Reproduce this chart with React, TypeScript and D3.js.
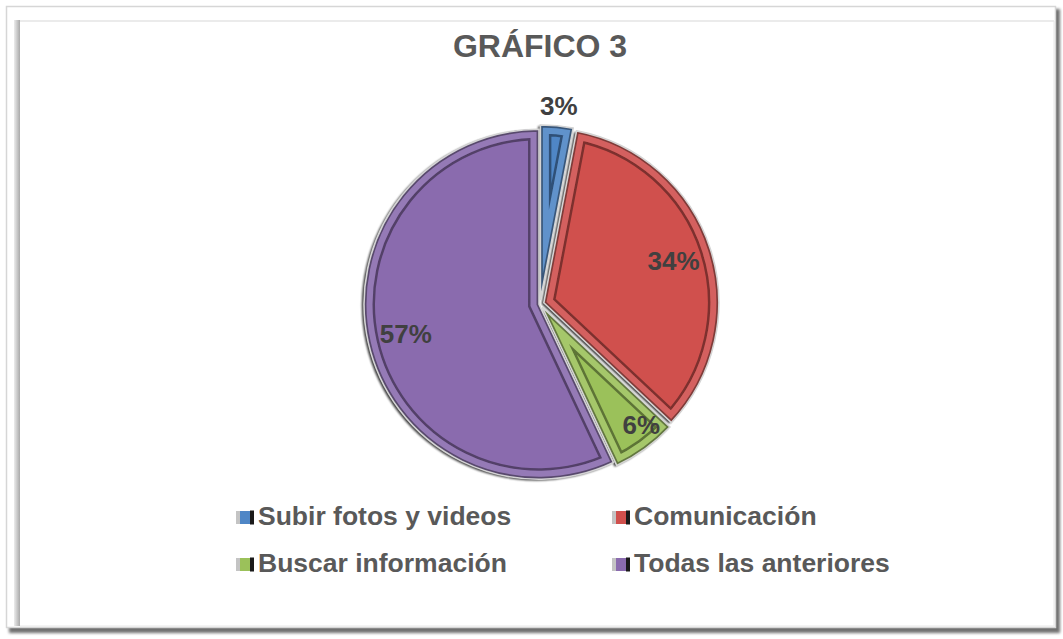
import React from "react";
import * as d3 from "d3";

const categories = ["Subir fotos y videos", "Comunicación", "Buscar información", "Todas las anteriores"];
const values = [3, 34, 6, 57];
const colors = ["#4F86C6", "#D0504D", "#9BC15A", "#8A6BAE"];
const title = "GRÁFICO 3";

const W = 1063;
const H = 639;
const FONT = "'Liberation Sans', Arial, Helvetica, sans-serif";

export default function App() {
  const cx = 540;
  const cy = 304;
  const R = 175;
  const total = d3.sum(values);
  const pie = d3.pie<number>().sort(null).value((d) => d);
  const arcs = pie(values);
  const arc = d3.arc<d3.PieArcDatum<number>>().innerRadius(0).outerRadius(R);

  const explode = (a: d3.PieArcDatum<number>, i: number) => {
    const mid = (a.startAngle + a.endAngle) / 2;
    const e = i === 3 ? 1 : 4;
    return [Math.sin(mid) * e, -Math.cos(mid) * e];
  };

  const labelPos = (a: d3.PieArcDatum<number>) => {
    const mid = (a.startAngle + a.endAngle) / 2;
    const share = a.value / total;
    const r = share < 0.05 ? R + 20 : share < 0.1 ? R * 0.88 : R * 0.78;
    const ang = share < 0.05 || share >= 0.1 ? mid : mid - 0.07;
    return [Math.sin(ang) * r, -Math.cos(ang) * r];
  };

  const legendCols = [236, 612];
  const legendRows = [525, 572];

  return (
    <svg
      width={W}
      height={H}
      style={{ position: "absolute", left: 0, top: 0, background: "#fff" }}
      fontFamily={FONT}
    >
      <defs>
        <filter id="frameShadow" x="-5%" y="-5%" width="110%" height="110%">
          <feGaussianBlur stdDeviation="1.5" />
        </filter>
        <filter id="sliceShadow" x="-20%" y="-20%" width="140%" height="140%">
          <feGaussianBlur stdDeviation="0.8" />
        </filter>
        <filter id="bevelBlur" x="-20%" y="-20%" width="140%" height="140%">
          <feGaussianBlur stdDeviation="0.7" />
        </filter>
        <linearGradient id="leftEdge" x1="0" x2="1" y1="0" y2="0">
          <stop offset="0" stopColor="#ececec" />
          <stop offset="1" stopColor="#a9a9a9" />
        </linearGradient>
        {arcs.map((a, i) => (
          <clipPath id={`clip-${i}`} key={i}>
            <path d={arc(a) || ""} />
          </clipPath>
        ))}
      </defs>

      {/* frame */}
      <rect x={9} y={9} width={1051} height={624} fill="#6f6f6f" filter="url(#frameShadow)" />
      <rect x={6.5} y={6.5} width={1049} height={621} fill="#ffffff" stroke="#d6d6d6" strokeWidth={1.5} />
      <rect x={14} y={20} width={6} height={606} fill="url(#leftEdge)" />
      <line x1={20} x2={1054} y1={21} y2={21} stroke="#e4e4e4" strokeWidth={1.5} />
      <line x1={1054} x2={1054} y1={21} y2={626} stroke="#e8e8e8" strokeWidth={1} />
      <line x1={20} x2={1054} y1={626} y2={626} stroke="#e8e8e8" strokeWidth={1} />

      {/* title */}
      <text x={cx} y={57} textAnchor="middle" fontSize={32} fontWeight="bold" fill="#595959">
        {title}
      </text>

      {/* pie */}
      <g transform={`translate(${cx},${cy})`}>
        {arcs.map((a, i) => {
          const [dx, dy] = explode(a, i);
          return (
            <path
              key={`s${i}`}
              d={arc(a) || ""}
              transform={`translate(${dx - 2.2},${dy + 1.2})`}
              fill="#000"
              opacity={0.8}
              filter="url(#sliceShadow)"
            />
          );
        })}
        {arcs.map((a, i) => {
          const [dx, dy] = explode(a, i);
          const d = arc(a) || "";
          return (
            <g key={`p${i}`} transform={`translate(${dx},${dy})`}>
              <path d={d} fill={colors[i]} />
              <g clipPath={`url(#clip-${i})`}>
                <g filter="url(#bevelBlur)">
                  <path d={d} fill="none" stroke="#000" strokeOpacity={0.4} strokeWidth={22} strokeLinejoin="miter" />
                  <path d={d} fill="none" stroke={colors[i]} strokeWidth={17} strokeLinejoin="miter" />
                  <path d={d} fill="none" stroke="#fff" strokeOpacity={0.1} strokeWidth={17} strokeLinejoin="miter" />
                  <path d={d} fill="none" stroke="#000" strokeOpacity={0.4} strokeWidth={5} strokeLinejoin="miter" />
                </g>
              </g>
              <path d={d} fill="none" stroke="#d4d4d4" strokeWidth={1.6} strokeLinejoin="miter" />
            </g>
          );
        })}
        {arcs.map((a, i) => {
          const [dx, dy] = explode(a, i);
          const [lx, ly] = labelPos(a);
          return (
            <text
              key={`l${i}`}
              x={lx + dx}
              y={ly + dy + 9}
              textAnchor="middle"
              fontSize={26}
              fontWeight="bold"
              fill="#404040"
            >
              {`${values[i]}%`}
            </text>
          );
        })}
      </g>

      {/* legend */}
      {categories.map((c, i) => {
        const x = legendCols[i % 2];
        const y = legendRows[Math.floor(i / 2)];
        return (
          <g key={`lg${i}`}>
            <rect x={x} y={y - 14} width={4} height={13} fill="#c4c4c4" />
            <rect x={x + 4} y={y - 14} width={10} height={13} fill={colors[i]} />
            <rect x={x + 14} y={y - 14.5} width={4} height={14} fill="#1a1a1a" />
            <text x={x + 22} y={y} fontSize={26.5} fontWeight="bold" fill="#595959">
              {c}
            </text>
          </g>
        );
      })}
    </svg>
  );
}
